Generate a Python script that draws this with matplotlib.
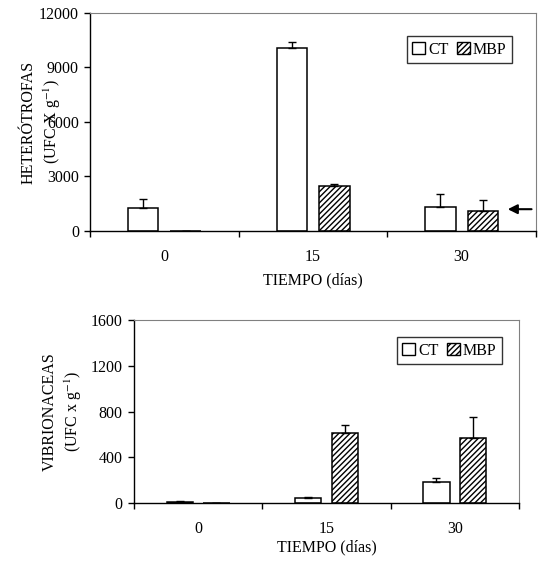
import numpy as np
import matplotlib
matplotlib.use("Agg")
import matplotlib.pyplot as plt
from matplotlib.patches import Patch

plt.rcParams['font.family'] = ['Liberation Serif', 'DejaVu Serif']
plt.rcParams['mathtext.fontset'] = 'stix'
plt.rcParams['hatch.linewidth'] = 1.0

tiempos = ['0', '15', '30']

# heterotrofas (UFC x g-1)
het_ct = [1250, 10100, 1330]
het_ct_err = [500, 280, 680]
het_mbp = [0, 2480, 1100]
het_mbp_err = [0, 90, 590]

# vibrionaceas (UFC x g-1)
vib_ct = [12, 40, 185]
vib_ct_err = [5, 14, 30]
vib_mbp = [0, 610, 570]
vib_mbp_err = [0, 70, 185]

fig = plt.figure(figsize=(5.38, 5.67), dpi=100)
ax1 = fig.add_axes([0.1673, 0.5926, 0.829, 0.3845])
ax2 = fig.add_axes([0.249, 0.1129, 0.7156, 0.3227])

W = 0.205
OFF = 0.143
HATCH = '//////'


def draw_panel(ax, ct, ct_err, mbp, mbp_err, ymax, ystep, ylabel, ylab_x, leg_anchor):
    x = np.arange(len(tiempos))
    ax.bar(x - OFF, ct, W, color='white', edgecolor='black', linewidth=1.1,
           yerr=[np.zeros(len(ct)), ct_err], capsize=3,
           error_kw=dict(ecolor='black', elinewidth=1, capthick=1), zorder=2)
    ax.bar(x + OFF, mbp, W, color='white', edgecolor='black', linewidth=1.1,
           hatch=HATCH, yerr=[np.zeros(len(mbp)), mbp_err], capsize=3,
           error_kw=dict(ecolor='black', elinewidth=1, capthick=1), zorder=2)

    ax.set_xlim(-0.5, 2.5)
    ax.set_ylim(0, ymax)
    ax.set_yticks(np.arange(0, ymax + 1, ystep))
    ax.set_xticks([-0.5, 0.5, 1.5, 2.5])
    ax.set_xticklabels([])
    ax.set_xticks(x, minor=True)
    ax.set_xticklabels(tiempos, minor=True)
    ax.tick_params(axis='x', which='major', direction='out', length=4, width=1)
    ax.tick_params(axis='x', which='minor', length=0, pad=13, labelsize=11.5)
    ax.tick_params(axis='y', direction='out', length=4, width=1, pad=4, labelsize=11.5)

    for s in ['top', 'right']:
        ax.spines[s].set_color('#808080')
        ax.spines[s].set_linewidth(0.8)
    for s in ['left', 'bottom']:
        ax.spines[s].set_linewidth(1)

    ax.set_ylabel(ylabel, fontsize=11.5, va='center', linespacing=1.3)
    ax.yaxis.set_label_coords(ylab_x, 0.5)
    ax.set_xlabel('TIEMPO (días)', fontsize=11.5, va='center')

    handles = [Patch(facecolor='white', edgecolor='black', linewidth=1),
               Patch(facecolor='white', edgecolor='black', linewidth=1, hatch=HATCH)]
    leg = ax.legend(handles, ['CT', 'MBP'], ncol=2, loc='upper right',
                    bbox_to_anchor=leg_anchor, borderaxespad=0, fontsize=11.5,
                    frameon=True, fancybox=False, edgecolor='black',
                    handlelength=0.8, handleheight=0.8, handletextpad=0.2,
                    columnspacing=0.5, borderpad=0.35)
    leg.get_frame().set_linewidth(1)


draw_panel(ax1, het_ct, het_ct_err, het_mbp, het_mbp_err, 12000, 3000,
           'HETERÓTROFAS\n(UFC X g$^{-1}$)', -0.108, (0.946, 0.894))
ax1.xaxis.set_label_coords(0.5, -0.225)

draw_panel(ax2, vib_ct, vib_ct_err, vib_mbp, vib_mbp_err, 1600, 400,
           'VIBRIONACEAS\n(UFC x g$^{-1}$)', -0.184, (0.956, 0.907))
ax2.xaxis.set_label_coords(0.5, -0.24)

# flecha en 30 dias
ax1.annotate('', xy=(2.31, 1200), xytext=(2.47, 1200),
             arrowprops=dict(arrowstyle='-|>', color='black', lw=1.5,
                             mutation_scale=14, shrinkA=0, shrinkB=0))

fig.savefig('out.png', dpi=100)
